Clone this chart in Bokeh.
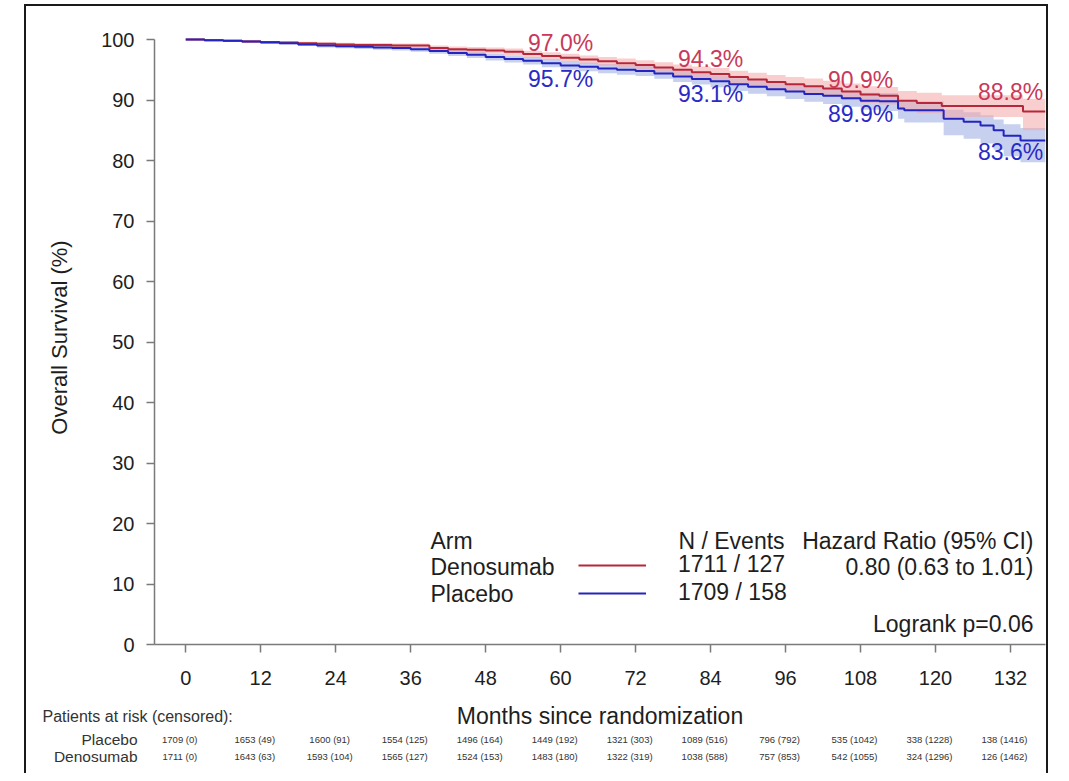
from bokeh.plotting import figure
from bokeh.models import FixedTicker, Label, Legend, LegendItem, Range1d
from bokeh.embed import file_html
from bokeh.resources import INLINE
from bokeh.core.properties import value

FONT = "Liberation Sans"

# ---------------- data ----------------
month_ticks = [0, 12, 24, 36, 48, 60, 72, 84, 96, 108, 120, 132]
pct_ticks = [0, 10, 20, 30, 40, 50, 60, 70, 80, 90, 100]

den_t = [0, 3, 6, 9, 12, 15, 18, 21, 24, 27, 30, 33, 36, 39, 42, 45, 48, 51, 54, 57,
         60, 63, 66, 69, 72, 75, 78, 81, 84, 87, 90, 93, 96, 99, 102, 105, 108, 111,
         114, 117, 121, 134, 137.6]
den_s = [100, 99.9, 99.8, 99.7, 99.6, 99.5, 99.4, 99.3, 99.2, 99.1, 99.1, 99.0, 99.0,
         98.6, 98.4, 98.3, 98.2, 98.0, 97.6, 97.3, 97.0, 96.7, 96.4, 96.1, 95.8, 95.4,
         95.0, 94.6, 94.3, 93.8, 93.4, 93.0, 92.6, 92.3, 91.9, 91.4, 90.9, 90.7, 89.9,
         89.5, 89.0, 88.1, 88.1]
den_hi = [100, 99.95, 99.9, 99.83, 99.77, 99.7, 99.63, 99.56, 99.49, 99.42, 99.43,
          99.35, 99.37, 99.0, 98.84, 98.77, 98.7, 98.54, 98.17, 97.91, 97.65, 97.38,
          97.12, 96.86, 96.6, 96.25, 95.9, 95.55, 95.3, 94.85, 94.5, 94.15, 93.8,
          93.55, 93.2, 92.75, 92.3, 92.15, 91.5, 91.2, 90.8, 90.2, 90.2]
den_lo = [100, 99.85, 99.7, 99.57, 99.43, 99.3, 99.17, 99.04, 98.91, 98.78, 98.77,
          98.65, 98.63, 98.2, 97.96, 97.83, 97.7, 97.46, 97.03, 96.69, 96.35, 96.02,
          95.68, 95.34, 95.0, 94.55, 94.1, 93.65, 93.3, 92.75, 92.3, 91.85, 91.4,
          91.05, 90.6, 90.05, 89.5, 89.25, 88.3, 87.8, 87.2, 85.0, 85.0]

pla_t = [0, 3, 6, 9, 12, 15, 18, 21, 24, 27, 30, 33, 36, 39, 42, 45, 48, 51, 54, 57,
         60, 63, 66, 69, 72, 75, 78, 81, 84, 87, 90, 93, 96, 99, 102, 105, 108, 111,
         114, 115, 121.3, 124.5, 127.2, 129.3, 130.9, 133.6, 137.6]
pla_s = [100, 99.9, 99.8, 99.7, 99.5, 99.4, 99.2, 99.0, 98.9, 98.8, 98.7, 98.6, 98.4,
         98.1, 97.8, 97.5, 97.1, 96.8, 96.5, 96.1, 95.7, 95.5, 95.2, 95.0, 94.8, 94.4,
         93.9, 93.5, 93.1, 92.6, 92.2, 91.8, 91.4, 91.0, 90.7, 90.3, 89.9, 89.8, 88.6,
         88.3, 86.9, 86.4, 85.8, 85.0, 84.1, 83.3, 83.3]
pla_hi = [100, 99.96, 99.91, 99.84, 99.7, 99.63, 99.46, 99.3, 99.22, 99.15, 99.07,
          98.99, 98.82, 98.56, 98.3, 98.03, 97.67, 97.4, 97.13, 96.77, 96.4, 96.23,
          95.97, 95.8, 95.63, 95.26, 94.8, 94.44, 94.08, 93.62, 93.26, 92.9, 92.54,
          92.18, 91.92, 91.56, 91.2, 91.15, 90.0, 89.8, 88.4, 88.0, 87.5, 86.8, 86.0,
          85.4, 85.4]
pla_lo = [100, 99.84, 99.69, 99.56, 99.3, 99.17, 98.94, 98.7, 98.58, 98.45, 98.33,
          98.21, 97.98, 97.64, 97.3, 96.97, 96.53, 96.2, 95.87, 95.43, 95.0, 94.77,
          94.43, 94.2, 93.97, 93.54, 92.98, 92.56, 92.1, 91.5, 91.06, 90.62, 90.16,
          89.72, 89.36, 88.9, 88.4, 88.2, 86.9, 86.3, 84.2, 83.6, 82.8, 81.8, 80.7,
          79.7, 79.7]

label_months = [60, 84, 108, 132]
den_labels = ["97.0%", "94.3%", "90.9%", "88.8%"]
den_label_vals = [97.0, 94.3, 90.9, 88.8]
pla_labels = ["95.7%", "93.1%", "89.9%", "83.6%"]
pla_label_vals = [95.7, 93.1, 89.9, 83.6]

risk_placebo = ["1709 (0)", "1653 (49)", "1600 (91)", "1554 (125)", "1496 (164)",
                "1449 (192)", "1321 (303)", "1089 (516)", "796 (792)", "535 (1042)",
                "338 (1228)", "138 (1416)"]
risk_deno = ["1711 (0)", "1643 (63)", "1593 (104)", "1565 (127)", "1524 (153)",
             "1483 (180)", "1322 (319)", "1038 (588)", "757 (853)", "542 (1055)",
             "324 (1296)", "126 (1462)"]

arm_names = ["Denosumab", "Placebo"]
n_events = ["1711 / 127", "1709 / 158"]
hr_text = "0.80 (0.63 to 1.01)"
logrank_text = "Logrank p=0.06"

# ---------------- styling / geometry ----------------
RED = "#B5273A"
BLUE = "#2424BE"
RED_TXT = "#C9395A"
BLUE_TXT = "#2A2AC6"
RED_BAND = "#F2A6A6"
BLUE_BAND = "#A9B9E6"
TXT = "#1e1e1e"
AX = "#7a7a7a"

W = 1024
X_START, X_END = -5, 137.6
BL, BR = 128, 5                      # left / right borders of main plot
FRAME_W = W - BL - BR
SCALE = FRAME_W / (X_END - X_START)  # px per month
BORDER = "2px solid #1a1a1a"

p = figure(width=W, height=694,
           x_range=Range1d(X_START, X_END), y_range=Range1d(0, 101.5),
           output_backend="svg", toolbar_location=None,
           min_border_left=BL, min_border_right=BR, min_border_top=24,
           min_border_bottom=56,
           styles={"margin-left": "24px", "margin-top": "4px",
                   "border-left": BORDER, "border-top": BORDER,
                   "border-right": BORDER})
p.outline_line_color = None
p.grid.visible = False

# confidence bands
p.varea_step(x=pla_t, y1=pla_lo, y2=pla_hi, step_mode="after",
             fill_color=BLUE_BAND, fill_alpha=0.65)
p.varea_step(x=den_t, y1=den_lo, y2=den_hi, step_mode="after",
             fill_color=RED_BAND, fill_alpha=0.55)

# KM curves
r_den = p.step(x=den_t, y=den_s, mode="after", line_color=RED, line_width=2)
r_pla = p.step(x=pla_t, y=pla_s, mode="after", line_color=BLUE, line_width=2)

# point-estimate labels
p.text(x=label_months, y=den_label_vals, text=den_labels, text_color=RED_TXT,
       text_font=value(FONT), text_font_size="23px", text_align="center",
       text_baseline="bottom", y_offset=-2)
p.text(x=label_months, y=pla_label_vals, text=pla_labels, text_color=BLUE_TXT,
       text_font=value(FONT), text_font_size="23px", text_align="center",
       text_baseline="top", y_offset=0)

# axes
xa = p.xaxis[0]
xa.ticker = FixedTicker(ticks=month_ticks)
ya = p.yaxis[0]
ya.ticker = FixedTicker(ticks=pct_ticks)
ya.axis_label = "Overall Survival (%)"
ya.bounds = (0, 100)
for ax in (xa, ya):
    ax.minor_tick_line_color = None
    ax.major_tick_in = 0
    ax.major_tick_out = 8
    ax.axis_line_color = AX
    ax.axis_line_width = 1.5
    ax.major_tick_line_color = AX
    ax.major_tick_line_width = 1.5
    ax.major_label_text_font = FONT
    ax.major_label_text_font_size = "20px"
    ax.major_label_text_color = TXT
    ax.axis_label_text_font = FONT
    ax.axis_label_text_font_size = "22px"
    ax.axis_label_text_font_style = "normal"
    ax.axis_label_text_color = TXT
xa.major_label_standoff = 18
ya.major_label_standoff = 12
ya.axis_label_standoff = 26

# legend (line samples + N/Events)
leg = Legend(items=[LegendItem(label=n_events[0], renderers=[r_den]),
                    LegendItem(label=n_events[1], renderers=[r_pla])],
             location=(424, 38), orientation="vertical",
             padding=0, margin=0, spacing=1,
             glyph_width=68, glyph_height=26, label_height=26,
             label_standoff=32,
             label_text_font=FONT, label_text_font_size="23px",
             label_text_color=TXT,
             border_line_color=None, background_fill_alpha=0)
p.add_layout(leg)


def lab(fig, text, x, y, align="left", size="23px", color=TXT):
    fig.add_layout(Label(x=x, y=y, x_units="screen", y_units="screen", text=text,
                         text_font=FONT, text_font_size=size, text_color=color,
                         text_align=align, text_baseline="middle"))


lab(p, "Arm", 276, 104)
lab(p, arm_names[0], 276, 78)
lab(p, arm_names[1], 276, 51)
lab(p, "N / Events", 524, 104)
lab(p, "Hazard Ratio (95% CI)", 879, 104, align="right")
lab(p, hr_text, 879, 78, align="right")
lab(p, logrank_text, 879, 21, align="right")

# ---------------- patients-at-risk strip (same month scale) ----------------
HB = 75
t = figure(width=W, height=HB,
           x_range=Range1d(X_START - BL / SCALE, X_END + BR / SCALE),
           y_range=Range1d(0, HB),
           output_backend="svg", toolbar_location=None,
           x_axis_location=None, y_axis_location=None, min_border=0,
           styles={"margin-left": "24px",
                   "border-left": BORDER, "border-right": BORDER})
t.outline_line_color = None
t.grid.visible = False

lab(t, "Months since randomization", BL + FRAME_W / 2, 58, align="center", size="23px")
lab(t, "Patients at risk (censored):", 16, 57, size="16px", color="#333333")
lab(t, "Placebo", 111, 34, align="right", size="15.5px", color="#333333")
lab(t, "Denosumab", 111, 17, align="right", size="15.5px", color="#333333")

t.text(x=month_ticks, y=34, text=risk_placebo, x_offset=-6,
       text_font=value(FONT), text_font_size="9.5px", text_color="#333333",
       text_align="center", text_baseline="middle")
t.text(x=month_ticks, y=17, text=risk_deno, x_offset=-6,
       text_font=value(FONT), text_font_size="9.5px", text_color="#333333",
       text_align="center", text_baseline="middle")

open("out.html", "w").write(file_html([p, t], INLINE))
